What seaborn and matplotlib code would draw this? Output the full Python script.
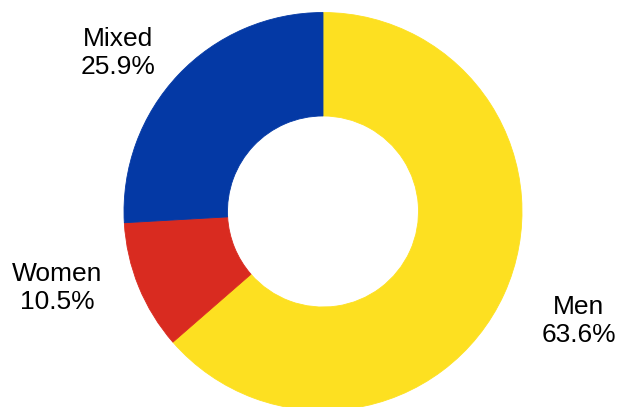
import matplotlib
matplotlib.use("Agg")
import matplotlib.pyplot as plt
import seaborn as sns

categories = ["Men", "Women", "Mixed"]
shares = [63.6, 10.5, 25.9]
colors = ["#FDE021", "#D92B20", "#0439A5"]

# label block centres, in pie-radius units
label_pos = [(1.286, -0.552), (-1.337, -0.386), (-1.030, 0.798)]

sns.set_theme(style="white")
plt.rcParams["font.family"] = ["Liberation Sans", "DejaVu Sans"]

fig = plt.figure(figsize=(6.17, 4.07), dpi=100)
ax = fig.add_axes([0, 0, 1, 1])

wedges, _ = ax.pie(
    shares,
    colors=colors,
    startangle=90,
    counterclock=False,
    radius=1.0,
    wedgeprops=dict(width=0.52, linewidth=0.6),
)
for w, c in zip(wedges, colors):
    w.set_edgecolor(c)

for name, val, (x, y) in zip(categories, shares, label_pos):
    ax.text(
        x, y, f"{name}\n{val:.1f}%",
        ha="center", va="center", multialignment="center",
        fontsize=19, color="black",
    )

# 1 unit = 199 px, pie centre at (323, 211.5) px from top-left
ax.set_aspect("auto")
ax.set_xlim(-323 / 199, (617 - 323) / 199)
ax.set_ylim(-(407 - 211.5) / 199, 211.5 / 199)
ax.axis("off")

fig.savefig("out.png", dpi=100)
